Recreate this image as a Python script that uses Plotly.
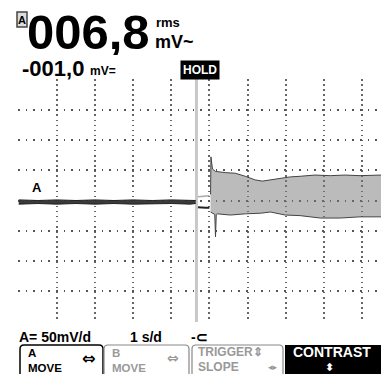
import plotly.graph_objects as go

W, H = 381, 374

# ---- data (time in s, 1 s/div; amplitude in mV, 50 mV/div) ----
pre_t = [0.0, 0.5, 1.0, 1.5, 2.0, 2.5, 3.0, 3.5, 4.0, 4.5, 4.64]
pre_hi = [1, 0, 1, 0, 1, 0, 1, 0, 1, 0, 0]
pre_lo = [-6, -5, -6, -5, -6, -5, -6, -5, -5, -6, -5]

gap_t = [4.70, 4.80, 4.90, 5.00]
gap_hi = [6, 7, 7, 8]
gap_lo = [-11, -12, -12, -12]

post_t_hi = [5.03, 5.04, 5.08, 5.16, 5.42, 5.68, 5.94, 6.20, 6.39, 6.60,
             6.86, 7.12, 7.38, 7.77, 8.17, 8.56, 8.95, 9.50]
post_hi = [10, 72, 52, 48, 46, 45, 40, 34, 32, 34, 37, 39, 40, 42, 41, 42, 41, 42]
post_t_lo = [5.03, 5.10, 5.14, 5.16, 5.18, 5.21, 5.55, 5.94, 6.34, 6.60,
             6.99, 7.38, 7.91, 8.43, 8.95, 9.50]
post_lo = [-19, -22, -23, -60, -23, -22, -24, -22, -21, -19, -24, -25, -29, -29, -27, -27]

cursor_t = 4.66

reading_main = "006,8"
reading_unit1 = "rms"
reading_unit2 = "mV~"
reading_dc = "-001,0"
reading_dc_unit = "mV="
hold_text = "HOLD"
scale_v = "A= 50mV/d"
scale_t = "1 s/d"
trig_sym = "-⊂"
keys = [("A", "MOVE"), ("B", "MOVE"), ("TRIGGER⇕", "SLOPE"), ("CONTRAST", "⬍")]


def px(x):
    return x / W


def py(y):
    return 1 - y / H


fig = go.Figure()

# pre-trigger band
fig.add_trace(go.Scatter(x=pre_t, y=pre_lo, mode="lines",
                         line=dict(color="#222", width=1), showlegend=False))
fig.add_trace(go.Scatter(x=pre_t, y=pre_hi, mode="lines", fill="tonexty",
                         fillcolor="#3a3a3a", line=dict(color="#222", width=1),
                         showlegend=False))
# gap between cursor and trigger
fig.add_trace(go.Scatter(x=gap_t, y=gap_hi, mode="lines",
                         line=dict(color="#aaa", width=1.5), showlegend=False))
fig.add_trace(go.Scatter(x=gap_t, y=gap_lo, mode="lines",
                         line=dict(color="#222", width=2), showlegend=False))
# post-trigger envelope
fig.add_trace(go.Scatter(x=post_t_lo, y=post_lo, mode="lines",
                         line=dict(color="#444", width=1), showlegend=False))
fig.add_trace(go.Scatter(x=post_t_hi, y=post_hi, mode="lines", fill="tonexty",
                         fillcolor="rgba(120,120,120,0.5)",
                         line=dict(color="#444", width=1), showlegend=False))

fig.update_xaxes(domain=[18 / W, 1], range=[-0.02, 9.5], dtick=1, tick0=0,
                 showgrid=True, gridcolor="#666", gridwidth=1.5,
                 griddash="1.5px,3.57px", showticklabels=False, zeroline=False,
                 showline=False, ticks="", fixedrange=True)
fig.update_yaxes(domain=[52 / H, 295 / H], range=[-200.6, 200.6], dtick=50, tick0=0,
                 showgrid=True, gridcolor="#555", gridwidth=1.5,
                 griddash="1.5px,6.1px", showticklabels=False, zeroline=False,
                 showline=False, ticks="", fixedrange=True)

shapes = []
# cursor line
shapes.append(dict(type="line", xref="x", yref="y domain", x0=cursor_t, x1=cursor_t,
                   y0=0, y1=1, line=dict(color="#c8c8c8", width=3), layer="below"))

# A icon box
shapes.append(dict(type="rect", xref="paper", yref="paper", x0=px(17), x1=px(27),
                   y0=py(27), y1=py(12), line=dict(color="#444", width=1.5),
                   fillcolor="#ddd"))


def keypath(x0, x1, y0=345, yb=380, r=4):
    return (f"M {px(x0)},{py(yb)} L {px(x0)},{py(y0 + r)} "
            f"Q {px(x0)},{py(y0)} {px(x0 + r)},{py(y0)} "
            f"L {px(x1 - r)},{py(y0)} Q {px(x1)},{py(y0)} {px(x1)},{py(y0 + r)} "
            f"L {px(x1)},{py(yb)}")


shapes.append(dict(type="path", xref="paper", yref="paper", path=keypath(20, 103),
                   line=dict(color="#000", width=1.5)))
shapes.append(dict(type="path", xref="paper", yref="paper", path=keypath(104, 189),
                   line=dict(color="#888", width=1.2)))
shapes.append(dict(type="path", xref="paper", yref="paper", path=keypath(192, 283),
                   line=dict(color="#888", width=1.2)))
shapes.append(dict(type="rect", xref="paper", yref="paper", x0=px(285), x1=px(381),
                   y0=py(374), y1=py(345), line=dict(width=0), fillcolor="#000"))

FONT = "Liberation Sans, Arial"
SYM = "DejaVu Sans"

ann = []


def T(text, x, y, size, color="#000", xanchor="left", font=FONT, bold=True, **kw):
    ann.append(dict(text=(f"<b>{text}</b>" if bold else text), x=px(x), y=py(y),
                    xref="paper", yref="paper", xanchor=xanchor, yanchor="middle",
                    showarrow=False, font=dict(size=size, color=color, family=font), **kw))


T("A", 22, 20, 11, xanchor="center")
T(reading_main, 25, 32, 49, height=46)
T(reading_unit1, 154, 22, 13)
T(reading_unit2, 153, 42, 18)
T(reading_dc, 20, 69, 22)
T(reading_dc_unit, 88, 71, 12)
T(hold_text, 200, 70, 12, color="#fff", xanchor="center",
  bgcolor="#000", borderpad=2)
T("A", 37, 187, 13, xanchor="center")
T(scale_v, 17, 337, 14)
T(scale_t, 128, 337, 14)
T(trig_sym, 189, 337, 14)

# softkeys
T(keys[0][0], 26, 353, 11.5)
T(keys[0][1], 26, 367.5, 11.5)
T("⇔", 88, 358, 16, xanchor="center", font=SYM)
T(keys[1][0], 110, 353, 11.5, color="#999")
T(keys[1][1], 110, 367.5, 11.5, color="#999")
T("⇔", 173, 358, 14, color="#999", xanchor="center", font=SYM)
T(keys[2][0], 196, 352, 12, color="#999")
T(keys[2][1], 196, 367, 12, color="#999")
T("◂▸", 273, 367, 9, color="#999", xanchor="center", font=SYM)
T(keys[3][0], 332, 352, 14, color="#fff", xanchor="center")
T(keys[3][1], 329, 367, 11, color="#fff", xanchor="center", font=SYM)

fig.update_layout(width=W, height=H, margin=dict(l=0, r=0, t=0, b=0),
                  paper_bgcolor="#fff", plot_bgcolor="#fff", shapes=shapes,
                  annotations=ann, showlegend=False)

fig.write_html("out.html", config={"displayModeBar": False},
               post_script="document.body.style.margin='0';document.body.style.overflow='hidden';")
